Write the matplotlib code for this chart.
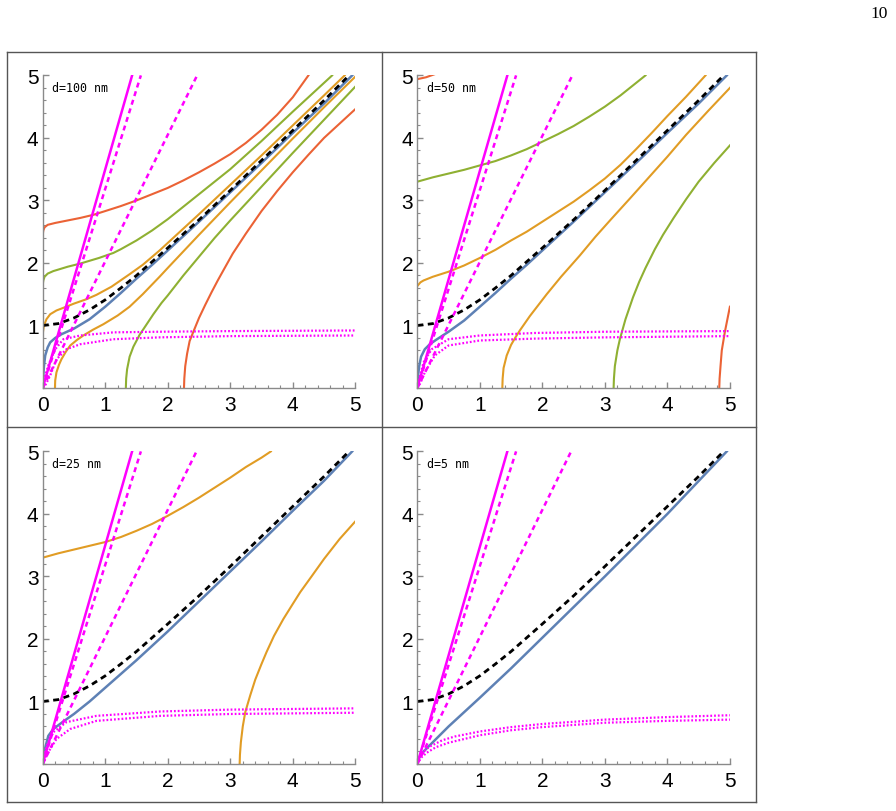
import numpy as np
import matplotlib.pyplot as plt
from matplotlib.lines import Line2D
from matplotlib.ticker import MultipleLocator

BLUE = '#5E81B5'
ORANGE = '#E19C24'
GREEN = '#8FB032'
RED = '#EB6235'
MAG = '#FF00FF'

labels = ['d=100 nm', 'd=50 nm', 'd=25 nm', 'd=5 nm']

# light line (same in every panel)
light = [(0, 1.0), (0.25, 1.03), (0.5, 1.12), (0.75, 1.25), (1, 1.41), (1.25, 1.6), (1.5, 1.8), (1.75, 2.02),
         (2, 2.24), (2.5, 2.69), (3, 3.16), (3.5, 3.64), (4, 4.12), (4.5, 4.6), (4.9, 5.0)]

# magenta straight lines: end x at y=5, per panel
mag_solid_end = [1.43, 1.44, 1.43, 1.44]
mag_dash1_end = [1.57, 1.58, 1.57, 1.58]
mag_dash2_end = [2.47, 2.48, 2.46, 2.46]

# magenta dotted saturating curves
dot_hi = [
    [(0, 0), (0.04, 0.2), (0.09, 0.36), (0.2, 0.62), (0.33, 0.78), (0.6, 0.84), (1.13, 0.89), (1.87, 0.9), (3, 0.91), (5, 0.92)],
    [(0, 0), (0.04, 0.18), (0.1, 0.41), (0.23, 0.62), (0.5, 0.78), (1, 0.84), (1.88, 0.88), (3, 0.9), (5, 0.91)],
    [(0, 0), (0.02, 0.12), (0.064, 0.29), (0.17, 0.51), (0.38, 0.67), (0.86, 0.77), (1.88, 0.84), (3, 0.87), (5, 0.89)],
    [(0, 0), (0.04, 0.13), (0.1, 0.2), (0.2, 0.28), (0.4, 0.38), (0.6, 0.44), (1, 0.52), (1.5, 0.59), (2, 0.64), (3, 0.71), (4, 0.75), (5, 0.78)],
]
dot_lo = [
    [(0, 0), (0.05, 0.06), (0.12, 0.2), (0.22, 0.46), (0.38, 0.62), (0.6, 0.7), (1.13, 0.78), (1.87, 0.81), (3, 0.83), (5, 0.84)],
    [(0, 0), (0.05, 0.08), (0.12, 0.25), (0.28, 0.52), (0.5, 0.68), (1, 0.76), (1.88, 0.79), (3, 0.81), (5, 0.83)],
    [(0, 0), (0.04, 0.08), (0.09, 0.19), (0.22, 0.4), (0.44, 0.56), (0.86, 0.69), (1.88, 0.77), (3, 0.8), (5, 0.82)],
    [(0, 0), (0.06, 0.1), (0.15, 0.18), (0.3, 0.27), (0.5, 0.34), (0.75, 0.4), (1, 0.46), (1.5, 0.54), (2, 0.59), (3, 0.66), (4, 0.69), (5, 0.71)],
]

# blue (main mode)
blue = [
    [(0, 0), (0.01, 0.2), (0.02, 0.35), (0.04, 0.52), (0.08, 0.65), (0.12, 0.73), (0.2, 0.8), (0.3, 0.86), (0.5, 0.95),
     (0.75, 1.1), (1, 1.3), (1.25, 1.52), (1.5, 1.75), (1.75, 1.97), (2, 2.2), (2.5, 2.66), (3, 3.13), (3.5, 3.6),
     (4, 4.08), (4.5, 4.55), (4.95, 5.0)],
    [(0, 0), (0.01, 0.18), (0.03, 0.35), (0.06, 0.5), (0.12, 0.62), (0.2, 0.7), (0.3, 0.77), (0.5, 0.9), (0.75, 1.08),
     (1, 1.3), (1.25, 1.52), (1.5, 1.75), (1.75, 1.97), (2, 2.2), (2.5, 2.66), (3, 3.13), (3.5, 3.6), (4, 4.08),
     (4.5, 4.55), (4.95, 5.0)],
    [(0, 0), (0.02, 0.15), (0.04, 0.26), (0.09, 0.45), (0.17, 0.56), (0.33, 0.68), (0.5, 0.8), (0.75, 1.0), (1, 1.22),
     (1.5, 1.66), (2, 2.12), (2.5, 2.6), (3, 3.08), (3.5, 3.56), (4, 4.05), (4.5, 4.53), (4.95, 5.0)],
    [(0, 0), (0.03, 0.1), (0.1, 0.2), (0.2, 0.3), (0.34, 0.44), (0.5, 0.6), (1, 1.06), (1.5, 1.53), (2, 2.02),
     (3, 3.0), (4, 4.0), (4.95, 5.0)],
]

# higher-order branches, (points, colour) per panel
branches = [
    [
        ([(0, 0.8), (0.005, 0.9), (0.02, 1.0), (0.06, 1.1), (0.12, 1.18), (0.22, 1.24), (0.35, 1.29), (0.5, 1.35),
          (0.7, 1.42), (0.86, 1.49), (1.1, 1.62), (1.39, 1.82), (1.6, 1.97), (1.87, 2.2), (2, 2.32), (2.5, 2.78),
          (3, 3.25), (3.5, 3.72), (4, 4.2), (4.5, 4.68), (4.83, 5.0)], ORANGE),
        ([(0.196, 0), (0.2, 0.12), (0.22, 0.25), (0.26, 0.37), (0.3, 0.46), (0.37, 0.58), (0.44, 0.68), (0.55, 0.77),
          (0.65, 0.84), (0.8, 0.93), (0.97, 1.02), (1.2, 1.16), (1.39, 1.3), (1.6, 1.5), (1.87, 1.78), (2, 1.92),
          (2.5, 2.45), (3, 2.97), (3.5, 3.48), (4, 3.99), (4.5, 4.49), (5, 4.98)], ORANGE),
        ([(0, 1.65), (0.01, 1.72), (0.03, 1.78), (0.08, 1.83), (0.17, 1.87), (0.4, 1.94), (0.6, 1.99), (0.9, 2.08),
          (1.13, 2.16), (1.25, 2.22), (1.5, 2.36), (1.75, 2.52), (2, 2.7), (2.25, 2.9), (2.5, 3.1), (3, 3.5),
          (3.5, 3.95), (4, 4.42), (4.63, 5.0)], GREEN),
        ([(1.33, 0), (1.335, 0.15), (1.35, 0.3), (1.39, 0.5), (1.45, 0.66), (1.55, 0.85), (1.65, 1.0), (1.77, 1.18),
          (1.9, 1.36), (2, 1.48), (2.25, 1.8), (2.5, 2.1), (2.75, 2.4), (3, 2.68), (3.5, 3.22), (4, 3.76),
          (4.5, 4.29), (5, 4.82)], GREEN),
        ([(0, 2.45), (0.01, 2.52), (0.03, 2.57), (0.08, 2.61), (0.2, 2.64), (0.4, 2.68), (0.6, 2.72), (0.81, 2.77),
          (1.0, 2.83), (1.25, 2.91), (1.5, 3.0), (1.75, 3.1), (2, 3.2), (2.25, 3.32), (2.5, 3.45), (2.75, 3.59),
          (3.0, 3.74), (3.25, 3.92), (3.5, 4.13), (3.75, 4.37), (4.0, 4.65), (4.1, 4.79), (4.2, 4.93),
          (4.25, 5.0)], RED),
        ([(2.26, 0), (2.265, 0.15), (2.28, 0.35), (2.31, 0.55), (2.35, 0.75), (2.41, 0.9), (2.5, 1.12), (2.6, 1.33),
          (2.7, 1.53), (2.8, 1.72), (2.9, 1.9), (3.04, 2.15), (3.25, 2.47), (3.5, 2.83), (3.75, 3.15), (4, 3.45),
          (4.25, 3.73), (4.5, 4.0), (4.75, 4.23), (5, 4.46)], RED),
    ],
    [
        ([(0, 1.63), (0.05, 1.69), (0.1, 1.72), (0.25, 1.78), (0.5, 1.86), (0.75, 1.96), (1, 2.08), (1.25, 2.21),
          (1.5, 2.36), (1.75, 2.5), (2, 2.66), (2.5, 2.98), (2.75, 3.16), (3, 3.35), (3.25, 3.57), (3.5, 3.82),
          (3.75, 4.08), (4, 4.35), (4.3, 4.66), (4.61, 5.0)], ORANGE),
        ([(1.36, 0), (1.365, 0.15), (1.38, 0.32), (1.43, 0.52), (1.5, 0.69), (1.57, 0.81), (1.64, 0.92), (1.8, 1.15),
          (2.07, 1.5), (2.3, 1.78), (2.6, 2.12), (2.85, 2.42), (3.1, 2.7), (3.4, 3.03), (3.66, 3.32), (4, 3.7),
          (4.3, 4.05), (4.65, 4.43), (5, 4.8)], ORANGE),
        ([(0, 3.3), (0.25, 3.37), (0.5, 3.43), (0.75, 3.49), (1.0, 3.56), (1.25, 3.63), (1.5, 3.72), (1.75, 3.82),
          (2, 3.94), (2.25, 4.06), (2.5, 4.19), (2.75, 4.34), (3, 4.5), (3.25, 4.68), (3.5, 4.88), (3.65, 5.0)], GREEN),
        ([(3.14, 0), (3.145, 0.15), (3.16, 0.35), (3.2, 0.6), (3.24, 0.78), (3.33, 1.1), (3.45, 1.45), (3.55, 1.7),
          (3.65, 1.92), (3.8, 2.22), (3.93, 2.45), (4.1, 2.72), (4.3, 3.02), (4.5, 3.3), (4.75, 3.6), (5, 3.88)], GREEN),
        ([(0, 4.94), (0.14, 4.97), (0.28, 5.02)], RED),
        ([(4.83, 0), (4.835, 0.15), (4.85, 0.35), (4.87, 0.6), (4.92, 0.9), (4.96, 1.1), (5.0, 1.3)], RED),
    ],
    [
        ([(0, 3.3), (0.25, 3.37), (0.5, 3.43), (0.75, 3.49), (1.0, 3.55), (1.25, 3.63), (1.5, 3.73), (1.75, 3.84),
          (2.0, 3.97), (2.25, 4.11), (2.5, 4.26), (2.75, 4.42), (3.0, 4.58), (3.25, 4.75), (3.5, 4.9),
          (3.65, 5.0)], ORANGE),
        ([(3.15, 0), (3.155, 0.15), (3.17, 0.35), (3.2, 0.6), (3.24, 0.83), (3.32, 1.1), (3.4, 1.35), (3.5, 1.6),
          (3.58, 1.79), (3.7, 2.05), (3.85, 2.32), (4.0, 2.56), (4.12, 2.75), (4.3, 3.0), (4.5, 3.28), (4.75, 3.6),
          (5, 3.88)], ORANGE),
    ],
    [],
]

fig = plt.figure(figsize=(8.96, 8.12), dpi=100)

lefts = [42.7, 417.3, 42.7, 417.3]
bottoms = [389, 389, 765, 765]
W = 896
H = 812

for i in range(4):
    ax = fig.add_axes([lefts[i] / W, 1 - bottoms[i] / H, 312.6 / W, 312.6 / H])
    ax.set_xlim(0, 5)
    ax.set_ylim(0, 5)
    for s in ['top', 'right']:
        ax.spines[s].set_visible(False)
    for s in ['left', 'bottom']:
        ax.spines[s].set_color('#8a8a8a')
        ax.spines[s].set_linewidth(1.0)
    ax.xaxis.set_major_locator(MultipleLocator(1))
    ax.xaxis.set_minor_locator(MultipleLocator(0.2))
    ax.set_yticks([1, 2, 3, 4, 5])
    ax.yaxis.set_minor_locator(MultipleLocator(0.2))
    ax.tick_params(which='major', direction='in', length=4, width=1, color='#8a8a8a',
                   labelsize=15)
    ax.tick_params(axis='x', which='major', pad=5)
    ax.tick_params(axis='y', which='major', pad=3)
    ax.tick_params(which='minor', direction='in', length=2.2, width=0.8, color='#8a8a8a')
    for lab in ax.get_xticklabels() + ax.get_yticklabels():
        lab.set_fontfamily('Liberation Sans')

    for pts, col in branches[i]:
        xs, ys = zip(*pts)
        ax.plot(xs, ys, color=col, lw=1.5)

    xs, ys = zip(*blue[i])
    ax.plot(xs, ys, color=BLUE, lw=1.8)
    xs, ys = zip(*light)
    ax.plot(xs, ys, color='black', lw=2.0, ls=(0, (2.2, 1.6)))

    ax.plot([0, mag_solid_end[i]], [0, 5], color=MAG, lw=1.8)
    ax.plot([0, mag_dash1_end[i]], [0, 5], color=MAG, lw=1.8, ls=(0, (2, 1.6)))
    ax.plot([0, mag_dash2_end[i]], [0, 5], color=MAG, lw=1.8, ls=(0, (2, 1.6)))
    for curve in (dot_hi[i], dot_lo[i]):
        xs, ys = zip(*curve)
        ax.plot(xs, ys, color=MAG, lw=1.6, ls=(0, (0.8, 0.9)))

    ax.text(0.15, 4.8, labels[i], fontsize=8.4, family='DejaVu Sans Mono', va='center', ha='left')

# table frame
frame_col = '#555555'
def hline(y, x0, x1):
    fig.add_artist(Line2D([x0 / W, x1 / W], [1 - y / H, 1 - y / H], color=frame_col, lw=1.0))
def vline(x, y0, y1):
    fig.add_artist(Line2D([x / W, x / W], [1 - y0 / H, 1 - y1 / H], color=frame_col, lw=1.0))

hline(53, 7, 755.5)
hline(427.7, 7, 755.5)
hline(803, 7, 755.5)
vline(7, 53, 803)
vline(381.5, 53, 803)
vline(755.5, 53, 803)

fig.text(879.5 / W, 1 - 14 / H, '10', family='Liberation Serif', fontsize=12.5, ha='center', va='center')

fig.savefig('out.png', dpi=100)
